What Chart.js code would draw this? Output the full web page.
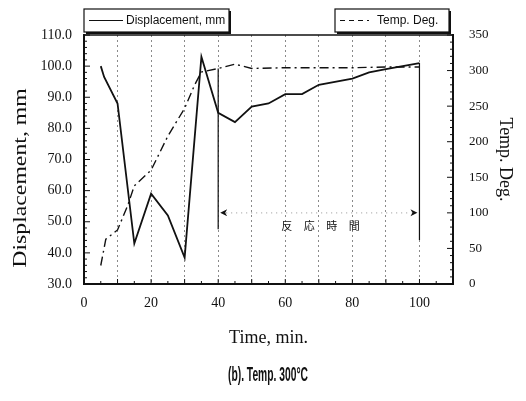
<!DOCTYPE html>
<html>
<head>
<meta charset="utf-8">
<script src="https://cdn.jsdelivr.net/npm/chart.js@4.4.1/dist/chart.umd.min.js"></script>
<style>
  body { margin: 0; background: #fff; }
  canvas { display: block; }
</style>
</head>
<body>
<canvas id="chart" width="526" height="401"></canvas>
<script>
// displacement (left axis), mm
const dispTime = [5, 6, 10, 15, 20, 25, 30, 35, 40, 45, 50, 55, 60, 65, 70, 80, 85, 90, 100];
const dispValues = [100, 96.5, 88, 43, 59, 52, 38.5, 103, 85, 82, 87, 88, 91, 91, 94, 96, 98, 99, 101];

// temperature (right axis), deg
const tempTime = [5, 6.5, 10, 13, 15, 20, 25, 30, 33, 35, 40, 45, 50, 60, 70, 80, 90, 100];
const tempValues = [26, 63, 76, 110, 138, 160, 208, 247, 280, 298, 303, 309, 303, 304, 304, 304, 305, 305];

const xLabels = [0, 20, 40, 60, 80, 100];
const reactionStart = 40;
const reactionEnd = 100;
const reactionLabel = ["反", "応", "時", "間"];

const serif = "'Liberation Serif', 'Times New Roman', serif";
const sans = "'Liberation Sans', Arial, sans-serif";

const toPoints = (xs, ys) => xs.map((x, i) => ({ x: x, y: ys[i] }));

const extras = {
  id: "extras",
  afterDraw(chart) {
    const ctx = chart.ctx;
    const a = chart.chartArea;
    const xs = chart.scales.x, yl = chart.scales.y, yr = chart.scales.y2;
    ctx.save();

    // top frame line
    ctx.strokeStyle = "#111";
    ctx.lineWidth = 1.5;
    ctx.beginPath();
    ctx.moveTo(a.left, a.top);
    ctx.lineTo(a.right, a.top);
    ctx.stroke();

    // inward tick marks
    ctx.lineWidth = 1;
    ctx.beginPath();
    for (let v = 30; v <= 110; v += 2) {
      const y = yl.getPixelForValue(v);
      ctx.moveTo(a.left, y);
      ctx.lineTo(a.left + (v % 10 === 0 ? 6 : 3), y);
    }
    for (let v = 0; v <= 350; v += 10) {
      const y = yr.getPixelForValue(v);
      ctx.moveTo(a.right, y);
      ctx.lineTo(a.right - (v % 50 === 0 ? 6 : 3), y);
    }
    for (let v = 0; v <= 110; v += 5) {
      const x = xs.getPixelForValue(v);
      ctx.moveTo(x, a.bottom);
      ctx.lineTo(x, a.bottom - (v % 10 === 0 ? 5 : 3));
    }
    ctx.stroke();

    // reaction time markers
    const x1 = xs.getPixelForValue(reactionStart);
    const x2 = xs.getPixelForValue(reactionEnd);
    ctx.lineWidth = 1.2;
    ctx.beginPath();
    ctx.moveTo(x1, yr.getPixelForValue(303));
    ctx.lineTo(x1, yr.getPixelForValue(77));
    ctx.moveTo(x2, yl.getPixelForValue(101));
    ctx.lineTo(x2, yr.getPixelForValue(62));
    ctx.stroke();

    const ay = yr.getPixelForValue(100);
    ctx.strokeStyle = "#aaa";
    ctx.setLineDash([1, 4]);
    ctx.beginPath();
    ctx.moveTo(x1 + 8, ay);
    ctx.lineTo(x2 - 8, ay);
    ctx.stroke();
    ctx.setLineDash([]);

    ctx.fillStyle = "#111";
    ctx.beginPath();
    ctx.moveTo(x1 + 2, ay);
    ctx.lineTo(x1 + 9, ay - 3.5);
    ctx.lineTo(x1 + 7, ay);
    ctx.lineTo(x1 + 9, ay + 3.5);
    ctx.closePath();
    ctx.moveTo(x2 - 2, ay);
    ctx.lineTo(x2 - 9, ay - 3.5);
    ctx.lineTo(x2 - 7, ay);
    ctx.lineTo(x2 - 9, ay + 3.5);
    ctx.closePath();
    ctx.fill();

    ctx.font = "11px 'Noto Sans CJK JP'";
    ctx.textAlign = "center";
    ctx.textBaseline = "middle";
    const cx = xs.getPixelForValue(70.5);
    reactionLabel.forEach((ch, i) => {
      ctx.fillText(ch, cx + (i - 1.5) * 22.5, ay + 13);
    });

    // left axis title (stretched like the scan)
    ctx.save();
    ctx.translate(21, 178);
    ctx.rotate(-Math.PI / 2);
    ctx.scale(1.25, 1);
    ctx.font = "19px " + serif;
    ctx.fillText("Displacement, mm", 0, 0);
    ctx.restore();

    // legend boxes
    const box = (x, y, w, h) => {
      ctx.fillStyle = "#111";
      ctx.fillRect(x + 2, y + 2, w, h);
      ctx.fillStyle = "#fff";
      ctx.fillRect(x, y, w, h);
      ctx.strokeStyle = "#111";
      ctx.lineWidth = 1.2;
      ctx.strokeRect(x, y, w, h);
    };
    box(84, 9, 145, 23);
    box(335, 9, 114, 23);
    ctx.strokeStyle = "#111";
    ctx.lineWidth = 1;
    ctx.beginPath();
    ctx.moveTo(89, 20.5);
    ctx.lineTo(123, 20.5);
    ctx.stroke();
    ctx.setLineDash([5, 4]);
    ctx.beginPath();
    ctx.moveTo(340, 20.5);
    ctx.lineTo(369, 20.5);
    ctx.stroke();
    ctx.setLineDash([]);
    ctx.fillStyle = "#111";
    ctx.font = "12px " + sans;
    ctx.textAlign = "left";
    ctx.fillText("Displacement, mm", 126, 21);
    ctx.fillText("Temp. Deg.", 377, 21);

    // caption (condensed)
    ctx.save();
    ctx.font = "bold 21px 'Liberation Sans Narrow', " + sans;
    const cap = "(b). Temp. 300\u00b0C";
    const w = ctx.measureText(cap).width;
    ctx.translate(268, 375);
    ctx.scale(80 / w, 1);
    ctx.textAlign = "center";
    ctx.fillText(cap, 0, 0);
    ctx.restore();

    ctx.restore();
  }
};

new Chart(document.getElementById("chart"), {
  type: "line",
  data: {
    datasets: [
      {
        label: "Displacement, mm",
        data: toPoints(dispTime, dispValues),
        yAxisID: "y",
        borderColor: "#111",
        borderWidth: 1.8,
        pointRadius: 0,
        tension: 0
      },
      {
        label: "Temp. Deg.",
        data: toPoints(tempTime, tempValues),
        yAxisID: "y2",
        borderColor: "#111",
        borderWidth: 1.4,
        borderDash: [9, 4, 2, 4],
        pointRadius: 0,
        tension: 0
      }
    ]
  },
  options: {
    responsive: false,
    animation: false,
    devicePixelRatio: 1,
    layout: { padding: { top: 35, bottom: 51, left: 0, right: 0 } },
    plugins: {
      legend: { display: false },
      tooltip: { enabled: false }
    },
    scales: {
      x: {
        type: "linear",
        min: 0,
        max: 110,
        afterFit: s => { s.height = 66; },
        ticks: {
          stepSize: 10,
          autoSkip: false,
          maxRotation: 0,
          padding: 11,
          color: "#111",
          font: { family: serif, size: 14 },
          callback: v => xLabels.includes(v) ? String(v) : ""
        },
        grid: {
          drawTicks: false,
          color: c => (c.tick && c.tick.value > 0 && c.tick.value < 110) ? "#8a8a8a" : "rgba(0,0,0,0)",
          lineWidth: 1
        },
        border: { color: "#111", width: 2, dash: [2, 3] },
        title: {
          display: true,
          text: "Time, min.",
          color: "#111",
          font: { family: serif, size: 18 },
          padding: { top: 0, bottom: 1 }
        }
      },
      y: {
        position: "left",
        min: 30,
        max: 110,
        afterFit: s => { s.width = 84; },
        ticks: {
          stepSize: 10,
          padding: 12,
          color: "#111",
          font: { family: serif, size: 14 },
          callback: v => v.toFixed(1)
        },
        grid: { display: false, drawTicks: false },
        border: { color: "#111", width: 2 }
      },
      y2: {
        position: "right",
        min: 0,
        max: 350,
        afterFit: s => { s.width = 73; },
        ticks: {
          stepSize: 50,
          padding: 16,
          color: "#111",
          font: { family: serif, size: 13 }
        },
        grid: { display: false, drawTicks: false },
        border: { color: "#111", width: 2 },
        title: {
          display: true,
          text: "Temp. Deg.",
          color: "#111",
          font: { family: serif, size: 18 },
          padding: { top: 10, bottom: 0 }
        }
      }
    }
  },
  plugins: [extras]
});
</script>
</body>
</html>
